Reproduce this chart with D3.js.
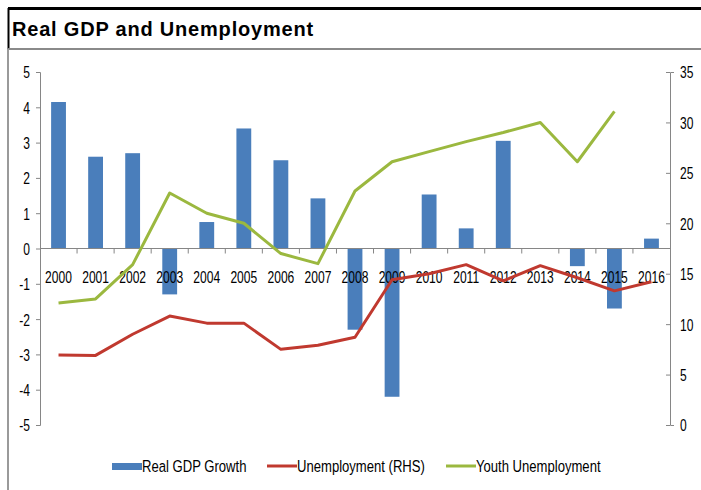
<!DOCTYPE html>
<html>
<head>
<meta charset="utf-8">
<script src="https://cdn.jsdelivr.net/npm/d3@7"></script>
<style>
  html, body { margin: 0; padding: 0; background: #fff; }
  svg { display: block; }
  .tick-label { font-family: "Liberation Sans", Arial, sans-serif; font-size: 17px; fill: #000; }
</style>
</head>
<body>
<svg id="chart" width="701" height="490"></svg>
<script>
// Years on the category axis
const years = ["2000","2001","2002","2003","2004","2005","2006","2007","2008","2009","2010","2011","2012","2013","2014","2015","2016"];
// Real GDP growth, % (left axis)
const gdpGrowth = [4.15, 2.6, 2.7, -1.3, 0.75, 3.4, 2.5, 1.42, -2.3, -4.2, 1.53, 0.57, 3.05, 0, -0.5, -1.7, 0.28];
// Unemployment rate, % (right axis)
const unemployment = [6.95, 6.9, 9.0, 10.8, 10.1, 10.1, 7.5, 7.9, 8.7, 14.4, 15.0, 15.9, 14.3, 15.8, 14.6, 13.3, 14.2];
// Youth unemployment rate, % (right axis; no 2016 figure)
const youthUnemployment = [12.1, 12.5, 15.9, 23.0, 21.0, 20.0, 17.0, 16.0, 23.2, 26.1, 27.1, 28.1, 29.0, 30.0, 26.1, 31.1, null];
// Axis ticks
const leftTicks = [-5, -4, -3, -2, -1, 0, 1, 2, 3, 4, 5];
const rightTicks = [0, 5, 10, 15, 20, 25, 30, 35];

const svg = d3.select("#chart");
const W = 701, H = 490;
const plot = { left: 40, right: 670, top: 72, bottom: 425 };
const SX = 0.71; // horizontal squeeze for the narrow label face

// Place a condensed label at (x, y)
function narrow(sel, x, y, sx = SX) {
  return sel.attr("x", null).attr("y", null)
    .attr("transform", `translate(${x},${y}) scale(${sx},1)`);
}

// Frame and title
svg.append("line").attr("x1", 8).attr("x2", W).attr("y1", 8.5).attr("y2", 8.5)
  .attr("stroke", "#000").attr("stroke-width", 3);
svg.append("line").attr("x1", 8.5).attr("x2", 8.5).attr("y1", 8).attr("y2", 49)
  .attr("stroke", "#000").attr("stroke-width", 2);
svg.append("line").attr("x1", 8).attr("x2", W).attr("y1", 49).attr("y2", 49)
  .attr("stroke", "#8a8a8a").attr("stroke-width", 2);
svg.append("line").attr("x1", 8).attr("x2", 8).attr("y1", 49).attr("y2", H)
  .attr("stroke", "#9a9a9a").attr("stroke-width", 2);
svg.append("text").attr("x", 12).attr("y", 36)
  .attr("font-family", "Arial, 'Liberation Sans', sans-serif")
  .attr("font-weight", "bold").attr("font-size", 20).attr("letter-spacing", 0.8).attr("fill", "#000")
  .text("Real GDP and Unemployment");

// Scales
const x = d3.scaleBand().domain(years).range([plot.left, plot.right]).paddingInner(0.6).paddingOuter(0.3);
const xc = d => x(d) + x.bandwidth() / 2;
const yL = d3.scaleLinear().domain([-5, 5]).range([plot.bottom, plot.top]);
const yR = d3.scaleLinear().domain([0, 35]).range([plot.bottom, plot.top]);

const axisColor = "#868686";

// Left axis
const leftAxis = svg.append("g").attr("transform", `translate(${plot.left},0)`)
  .call(d3.axisLeft(yL).tickValues(leftTicks).tickSize(4).tickFormat(d3.format("d")));
leftAxis.select(".domain").attr("stroke", axisColor);
leftAxis.selectAll(".tick line").attr("stroke", axisColor);
leftAxis.selectAll(".tick text").attr("class", "tick-label").attr("font-size", null).attr("font-family", null)
  .attr("dy", "0.35em").text(d => d < 0 ? "-" + Math.abs(d) : d)
  .each(function () { narrow(d3.select(this), -10, 0); });

// Right axis
const rightAxis = svg.append("g").attr("transform", `translate(${plot.right},0)`)
  .call(d3.axisRight(yR).tickValues(rightTicks).tickSize(4));
rightAxis.select(".domain").attr("stroke", axisColor);
rightAxis.selectAll(".tick line").attr("stroke", axisColor).attr("x1", -4).attr("x2", 0);
rightAxis.selectAll(".tick text").attr("class", "tick-label").attr("font-size", null).attr("font-family", null)
  .attr("dy", "0.35em")
  .each(function () { narrow(d3.select(this), 10, 0); });

// Bars for GDP growth
svg.append("g").selectAll("rect").data(years).join("rect")
  .attr("x", d => x(d))
  .attr("width", x.bandwidth())
  .attr("y", (d, i) => yL(Math.max(0, gdpGrowth[i])))
  .attr("height", (d, i) => Math.abs(yL(gdpGrowth[i]) - yL(0)))
  .attr("fill", "#4a7ebb");

// Category axis along zero
const step = x.step();
const xAxis = svg.append("g");
xAxis.append("line").attr("x1", plot.left).attr("x2", plot.right)
  .attr("y1", yL(0)).attr("y2", yL(0)).attr("stroke", axisColor);
xAxis.selectAll("line.tk").data(years.slice(1)).join("line").attr("class", "tk")
  .attr("x1", d => xc(d) - step / 2).attr("x2", d => xc(d) - step / 2)
  .attr("y1", yL(0)).attr("y2", yL(0) + 5).attr("stroke", axisColor);
xAxis.selectAll("text").data(years).join("text").attr("class", "tick-label")
  .attr("text-anchor", "middle")
  .text(d => d)
  .each(function (d) { narrow(d3.select(this), xc(d), yL(0) + 34); });

// Lines
const lineGen = vals => d3.line()
  .defined((d, i) => vals[i] !== null)
  .x(d => xc(d))
  .y((d, i) => yR(vals[i]));

svg.append("path").attr("d", lineGen(unemployment)(years))
  .attr("fill", "none").attr("stroke", "#c0392f").attr("stroke-width", 3).attr("stroke-linejoin", "round");
svg.append("path").attr("d", lineGen(youthUnemployment)(years))
  .attr("fill", "none").attr("stroke", "#9bb83f").attr("stroke-width", 3).attr("stroke-linejoin", "round");

// Legend
const legendY = 466;
const legend = svg.append("g");
const items = [
  { label: "Real GDP Growth", type: "bar", color: "#4a7ebb", x: 112 },
  { label: "Unemployment (RHS)", type: "line", color: "#c0392f", x: 267 },
  { label: "Youth Unemployment", type: "line", color: "#9bb83f", x: 446 }
];
items.forEach(it => {
  if (it.type === "bar") {
    legend.append("rect").attr("x", it.x).attr("y", legendY - 3).attr("width", 30).attr("height", 7).attr("fill", it.color);
  } else {
    legend.append("line").attr("x1", it.x).attr("x2", it.x + 30).attr("y1", legendY).attr("y2", legendY)
      .attr("stroke", it.color).attr("stroke-width", 3);
  }
  legend.append("text").attr("class", "tick-label").text(it.label)
    .call(s => narrow(s, it.x + 30, legendY + 6, 0.77));
});
</script>
</body>
</html>
